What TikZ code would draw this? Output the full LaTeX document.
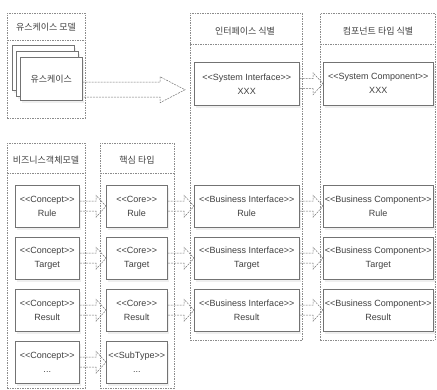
\documentclass[tikz,border=0pt]{standalone}
\usepackage{fontspec}
\setmainfont{Liberation Sans}
\newfontfamily\kr{Noto Sans CJK KR}
\usetikzlibrary{calc,shadows}
\def\st#1{\textless\kern0pt\textless#1\textgreater\kern0pt\textgreater}
% fat hollow arrow: from point #1 to tip point #2
\def\fatarrow#1#2{\draw[fatarr] let \p1=(#1), \p2=(#2) in
  (\x1,\y1+5pt) -- (\x2-10pt,\y1+5pt) -- (\x2-10pt,\y1+11pt) -- (\x2,\y1)
  -- (\x2-10pt,\y1-11pt) -- (\x2-10pt,\y1-5pt) -- (\x1,\y1-5pt) -- cycle;}

\begin{document}
\begin{tikzpicture}[x=1pt,y=-1pt,
  pkg/.style={draw=black!45,dash pattern=on 1.5pt off 1pt,line width=0.5pt,anchor=north west,inner sep=0pt},
  pkgline/.style={draw=black!45,dash pattern=on 1.5pt off 1pt,line width=0.5pt},
  box/.style={draw=black!55,fill=white,line width=0.5pt,anchor=north west,align=center,inner sep=0pt,
    font=\fontsize{9}{14}\selectfont,text=black!75,
    drop shadow={shadow xshift=1.5pt,shadow yshift=-2.5pt,fill=black!12}},
  ttl/.style={font=\kr\fontsize{9}{10}\selectfont,text=black!75},
  fatarr/.style={draw=black!55,dash pattern=on 2pt off 1pt,line width=0.5pt}]
  \useasboundingbox (0,0) rectangle (437,390);

  % packages
  \node[pkg,minimum width=78pt,minimum height=105pt] (ucpkg) at (7,13) {};
  \node[ttl] (uctitle) at (46,27) {유스케이스 모델};
  \draw[pkgline] (7,40) -- (85,40);
  \node[pkg,minimum width=112pt,minimum height=327pt] (ifcol) at (190,13) {};
  \node[ttl] (iftitle) at (245,31) {인터페이스 식별};
  \draw[pkgline] (190,44) -- (302,44);
  \node[pkg,minimum width=115pt,minimum height=327pt] (cmpcol) at (320,13) {};
  \node[ttl] (cmptitle) at (378,31) {컴포넌트 타입 식별};
  \draw[pkgline] (320,44) -- (435,44);
  \node[pkg,minimum width=78pt,minimum height=245pt] (bizpkg) at (7,143) {};
  \node[ttl] (biztitle) at (46,160) {비즈니스객체모델};
  \draw[pkgline] (7,173) -- (85,173);
  \node[pkg,minimum width=74pt,minimum height=245pt] (corepkg) at (100,143) {};
  \node[ttl] (coretitle) at (137,160) {핵심 타입};
  \draw[pkgline] (100,173) -- (174,173);

  % use case stack
  \node[box,minimum width=62pt,minimum height=45pt] (ucback) at (12,45) {};
  \node[box,minimum width=62pt,minimum height=45pt] (ucmid) at (16,51) {};
  \node[box,ttl,minimum width=62pt,minimum height=43pt] (uc) at (20,57) {유스케이스};

  % system row
  \node[box,minimum width=105pt,minimum height=43pt] (sysif) at (194,62) {\st{System Interface}\\XXX};
  \node[box,minimum width=110pt,minimum height=43pt] (syscmp) at (323,62) {\st{System Component}\\XXX};

  % business rows
  \node[box,minimum width=64pt,minimum height=42pt] (cptRule) at (15,185) {\st{Concept}\\Rule};
  \node[box,minimum width=64pt,minimum height=42pt] (cptTarget) at (15,237) {\st{Concept}\\Target};
  \node[box,minimum width=64pt,minimum height=42pt] (cptResult) at (15,289) {\st{Concept}\\Result};
  \node[box,minimum width=64pt,minimum height=42pt] (cptMore) at (15,341) {\st{Concept}\\...};
  \node[box,minimum width=61pt,minimum height=42pt] (coreRule) at (106,185) {\st{Core}\\Rule};
  \node[box,minimum width=61pt,minimum height=42pt] (coreTarget) at (106,237) {\st{Core}\\Target};
  \node[box,minimum width=61pt,minimum height=42pt] (coreResult) at (106,289) {\st{Core}\\Result};
  \node[box,minimum width=61pt,minimum height=42pt] (subMore) at (106,341) {\st{SubType}\\...};
  \node[box,minimum width=105pt,minimum height=42pt] (bifRule) at (194,185) {\st{Business Interface}\\Rule};
  \node[box,minimum width=105pt,minimum height=42pt] (bifTarget) at (194,237) {\st{Business Interface}\\Target};
  \node[box,minimum width=105pt,minimum height=42pt] (bifResult) at (194,289) {\st{Business Interface}\\Result};
  \node[box,minimum width=110pt,minimum height=42pt] (bcmRule) at (323,185) {\st{Business Component}\\Rule};
  \node[box,minimum width=110pt,minimum height=42pt] (bcmTarget) at (323,237) {\st{Business Component}\\Target};
  \node[box,minimum width=110pt,minimum height=42pt] (bcmResult) at (323,289) {\st{Business Component}\\Result};

  % arrows
  \draw[fatarr] let \p1=($(uc.east)+(0,11)$), \p2=($(ifcol.west)+(-5,0)$) in
    (\x1,\y1+7.5pt) -- (\x2-25pt,\y1+7.5pt) -- (\x2-25pt,\y1+13pt) -- (\x2,\y1)
    -- (\x2-25pt,\y1-13pt) -- (\x2-25pt,\y1-7.5pt) -- (\x1,\y1-7.5pt) -- cycle;
  \fatarrow{sysif.east}{syscmp.west}
  \fatarrow{cptRule.east}{coreRule.west}
  \fatarrow{cptTarget.east}{coreTarget.west}
  \fatarrow{cptResult.east}{coreResult.west}
  \fatarrow{cptMore.east}{subMore.west}
  \fatarrow{coreRule.east}{bifRule.west}
  \fatarrow{coreTarget.east}{bifTarget.west}
  \fatarrow{coreResult.east}{bifResult.west}
  \fatarrow{bifRule.east}{bcmRule.west}
  \fatarrow{bifTarget.east}{bcmTarget.west}
  \fatarrow{bifResult.east}{bcmResult.west}
\end{tikzpicture}
\end{document}
